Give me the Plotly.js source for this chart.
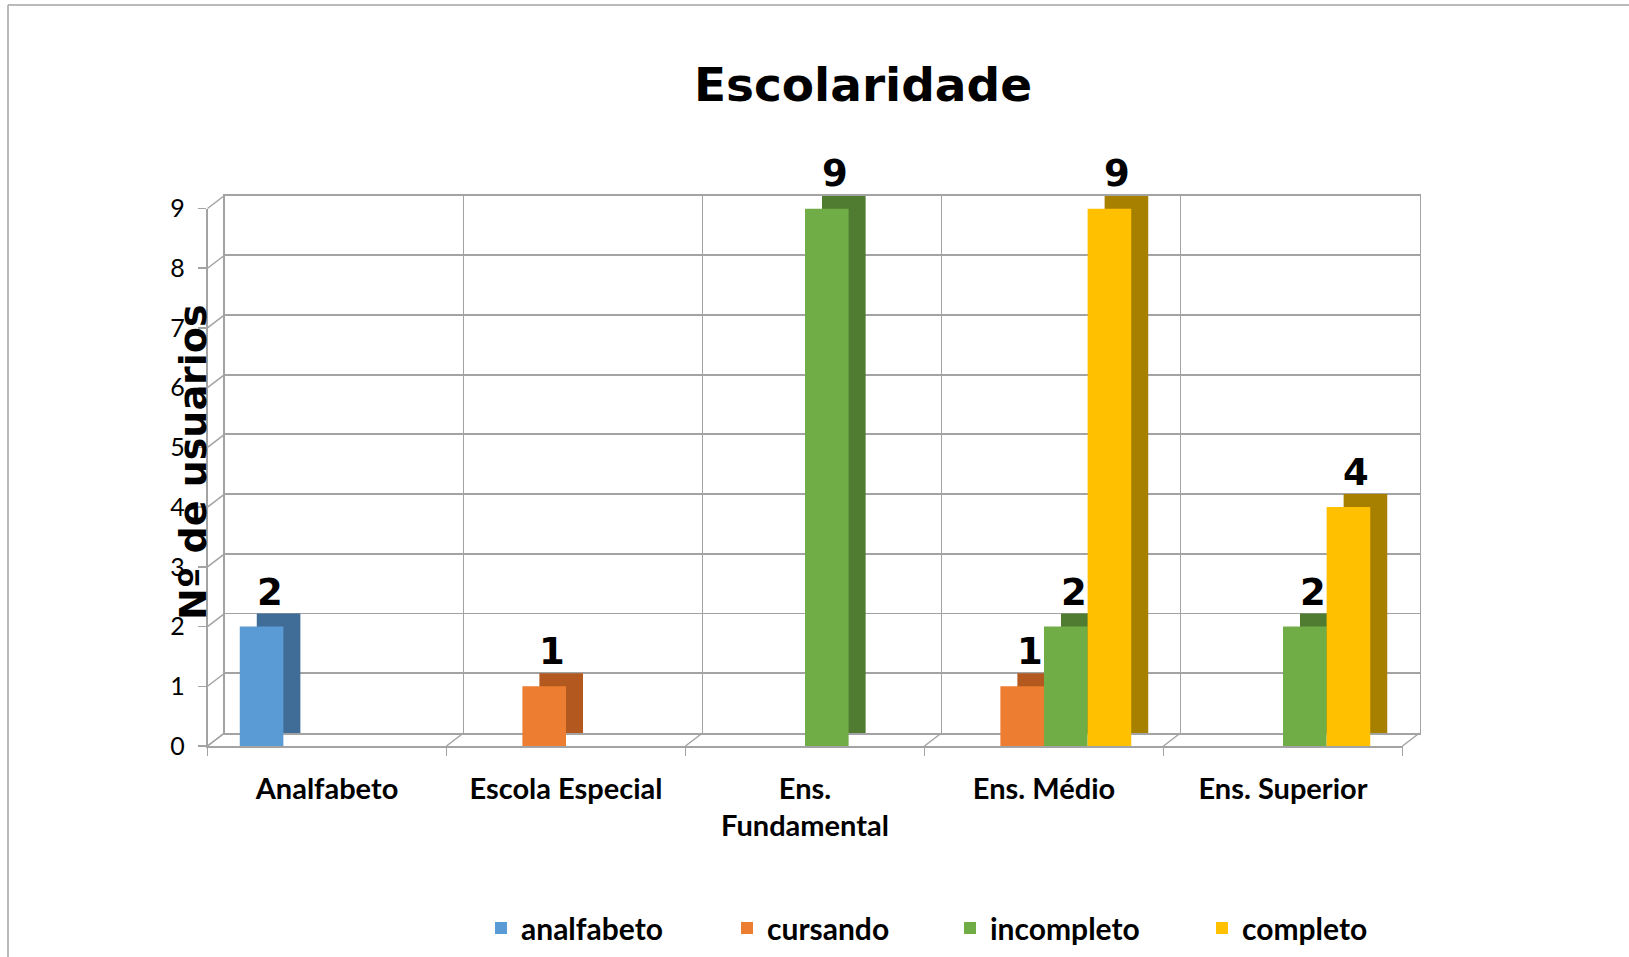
<!DOCTYPE html>
<html>
<head>
<meta charset="utf-8">
<script src="https://cdn.plot.ly/plotly-3.0.1.min.js"></script>
<style>
  body { margin: 0; background: #fff; }
  #chart { width: 1629px; height: 957px; }
</style>
</head>
<body>
<div id="chart"></div>
<script>
// Escolaridade data
const categorias = ['Analfabeto', 'Escola Especial', 'Ens.<br>Fundamental', 'Ens. Médio', 'Ens. Superior'];
const series = ['analfabeto', 'cursando', 'incompleto', 'completo'];
const analfabeto = [2, null, null, null, null];
const cursando = [null, 1, null, 1, null];
const incompleto = [null, null, 9, 2, 2];
const completo = [null, null, null, 9, 4];
const yTicks = [0, 1, 2, 3, 4, 5, 6, 7, 8, 9];

const valores = [analfabeto, cursando, incompleto, completo];
const cores = ['#5b9bd5', '#ed7d31', '#70ad47', '#ffc000'];
const coresLado = ['#3f6d98', '#b3591f', '#4f7c31', '#a88000'];

const W = 1629, H = 957;
// front plane (bars, labels) and back wall (grid)
const frontX = [207.5 / W, 1402.5 / W];
const frontY = [1 - 746 / H, 1 - 208.5 / H];
const backX = [224.5 / W, 1419.5 / W];
const backY = [1 - 733 / H, 1 - 195.5 / H];
const gap = 0.27;
const grey = '#a3a3a3';
// one legend per series, placed like the original
const legendX = [481, 727, 950, 1202];
const legendIds = ['legend', 'legend2', 'legend3', 'legend4'];

const traces = [];
// back copies give the dark side/top faces
series.forEach(function(nome, i) {
    traces.push({
        type: 'bar', x: categorias, y: valores[i], name: nome,
        xaxis: 'x', yaxis: 'y', showlegend: false, hoverinfo: 'skip',
        marker: { color: coresLado[i], line: { width: 0 } }
    });
});
series.forEach(function(nome, i) {
    traces.push({
        type: 'bar', x: categorias, y: valores[i], name: nome,
        xaxis: 'x2', yaxis: 'y2', legend: legendIds[i],
        marker: { color: cores[i], line: { width: 0 } }
    });
});

// data labels
const annotations = [];
const larg = (1 - gap) / series.length;
valores.forEach(function(arr, i) {
    arr.forEach(function(v, k) {
        if (v === null) return;
        annotations.push({
            xref: 'x2', yref: 'y2',
            x: k - (1 - gap) / 2 + larg * (i + 0.5), y: v,
            text: String(v), showarrow: false,
            xanchor: 'center', yanchor: 'bottom',
            xshift: 8, yshift: 11,
            font: { family: 'DejaVu Sans', size: 37, color: '#000', weight: 'bold' }
        });
    });
});
annotations.push({
    xref: 'paper', yref: 'paper', x: 193 / W, y: 1 - 462 / H,
    text: 'Nº de usuarios', textangle: -90, showarrow: false,
    xanchor: 'center', yanchor: 'middle',
    font: { family: 'DejaVu Sans', size: 38, color: '#000', weight: 'bold' }
});

// frame and 3D connectors
const shapes = [
    { type: 'line', xref: 'paper', yref: 'paper', x0: 8 / W, y0: 1 - 5 / H, x1: 1.01, y1: 1 - 5 / H, line: { color: grey, width: 1.5 } },
    { type: 'line', xref: 'paper', yref: 'paper', x0: 8 / W, y0: 1 - 5 / H, x1: 8 / W, y1: -0.01, line: { color: grey, width: 1.5 } }
];
yTicks.forEach(function(v) {
    const fy = frontY[0] + v / 9 * (frontY[1] - frontY[0]);
    const by = backY[0] + v / 9 * (backY[1] - backY[0]);
    shapes.push({ type: 'line', xref: 'paper', yref: 'paper', x0: frontX[0], y0: fy, x1: backX[0], y1: by, line: { color: grey, width: 1.5 } });
});
for (let k = 0; k <= categorias.length; k++) {
    const fx = frontX[0] + k / categorias.length * (frontX[1] - frontX[0]);
    const bx = backX[0] + k / categorias.length * (backX[1] - backX[0]);
    shapes.push({ type: 'line', xref: 'paper', yref: 'paper', x0: fx, y0: frontY[0], x1: bx, y1: backY[0], line: { color: grey, width: 1.5 } });
}

const layout = {
    width: W, height: H,
    margin: { l: 0, r: 0, t: 0, b: 0 },
    paper_bgcolor: '#fff',
    plot_bgcolor: 'rgba(0,0,0,0)',
    barmode: 'group',
    bargap: gap,
    bargroupgap: 0,
    title: {
        text: 'Escolaridade',
        x: 863 / W, xanchor: 'center',
        y: 1 - 85 / H, yanchor: 'middle',
        font: { family: 'DejaVu Sans', size: 47, color: '#000', weight: 'bold' }
    },
    xaxis: {
        domain: backX, anchor: 'y', type: 'category',
        showgrid: true, gridcolor: grey, gridwidth: 1.8, tickson: 'boundaries',
        showticklabels: false, ticks: '',
        showline: true, linecolor: grey, linewidth: 1.8, mirror: true,
        fixedrange: true
    },
    yaxis: {
        domain: backY, anchor: 'x', range: [0, 9], dtick: 1,
        showgrid: true, gridcolor: grey, gridwidth: 1.8, zeroline: false,
        showticklabels: false, ticks: '',
        showline: true, linecolor: grey, linewidth: 1.8, mirror: true,
        fixedrange: true
    },
    xaxis2: {
        domain: frontX, anchor: 'y2', type: 'category',
        showgrid: false, tickson: 'boundaries',
        ticks: 'outside', ticklen: 8, tickcolor: grey, tickwidth: 1.5,
        showline: true, linecolor: grey, linewidth: 1.8,
        ticklabelstandoff: 16,
        tickfont: { family: 'Lato', size: 29, color: '#000', weight: 'bold' },
        fixedrange: true
    },
    yaxis2: {
        domain: frontY, anchor: 'x2', range: [0, 9], tickvals: yTicks,
        showgrid: false, zeroline: false,
        ticks: 'outside', ticklen: 8, tickcolor: grey, tickwidth: 1.5,
        showline: true, linecolor: grey, linewidth: 1.8,
        ticklabelstandoff: 8,
        tickfont: { family: 'Lato', size: 25, color: '#000' },
        fixedrange: true
    },
    showlegend: true,
    annotations: annotations,
    shapes: shapes
};

legendIds.forEach(function(id, i) {
    layout[id] = {
        orientation: 'h',
        x: legendX[i] / W, xanchor: 'left',
        y: 1 - 928 / H, yanchor: 'middle',
        bgcolor: 'rgba(0,0,0,0)',
        font: { family: 'Lato', size: 30, color: '#000', weight: 'bold' }
    };
});

Plotly.newPlot('chart', traces, layout, { displayModeBar: false, staticPlot: true });
</script>
</body>
</html>
